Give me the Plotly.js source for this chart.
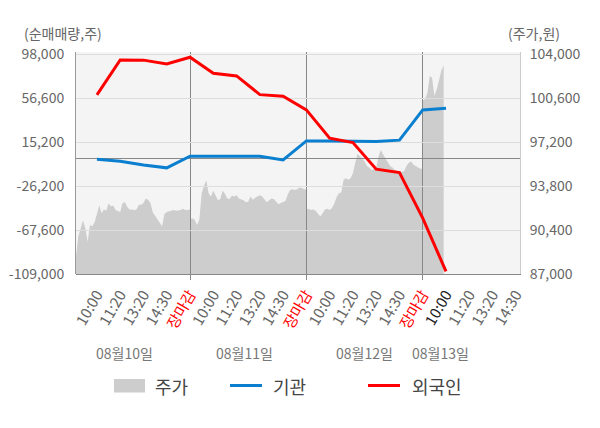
<!DOCTYPE html>
<html>
<head>
<meta charset="utf-8">
<script src="https://cdn.plot.ly/plotly-3.0.1.min.js"></script>
<style>
  html, body { margin: 0; padding: 0; background: #fff; }
  #chart { width: 600px; height: 428px; }
</style>
</head>
<body>
<div id="chart"></div>
<script>
// datos
const days = ['08월10일', '08월11일', '08월12일', '08월13일'];
const slots = ['10:00', '11:20', '13:20', '14:30', '장마감'];

// 순매매량 (주) por corte horario
const gigwan  = [-800, -2700, -6400, -9000, 2000, 2000, 2000, 2000, -1500, 16400, 16400, 16100, 15800, 17100, 45600, 47200];
const oegugin = [59700, 92600, 92500, 88900, 95200, 80100, 77600, 60000, 58500, 45600, 19000, 14800, -10200, -13400, -56300, -106600];

// 주가 (원), una muestra cada 1/10 de corte horario
const priceDay1 = [88300, 88350, 89900, 90450, 91150, 90550, 89500, 90800, 90700, 91000,
  91700, 92300, 91700, 92000, 91900, 92450, 92250, 92300, 91950, 91850,
  91800, 92500, 92550, 92200, 92000, 92000, 91950, 92000, 92350, 92350,
  92500, 92850, 92750, 92500, 91750, 91500, 91250, 91050, 90700, 91650,
  91800, 91850, 91900, 91950, 91900, 91900, 91950, 92050, 91950, 91950, 92000];
const priceDay2 = [91300, 91300, 91200, 90800, 91200, 93250, 93800, 94250, 93250, 93000,
  93450, 93000, 92700, 92800, 93450, 93200, 92850, 92800, 93050, 93000,
  93100, 92850, 92800, 92700, 92550, 92600, 93000, 92750, 92900, 93000,
  93100, 93000, 92800, 92550, 92700, 92850, 92800, 92550, 92400, 92500,
  92600, 92650, 93150, 93500, 93550, 93500, 93550, 93700, 93650, 93600, 93500];
const priceDay3 = [91950, 92050, 91950, 92000, 91900, 91650, 91450, 91700, 92000, 92050,
  91950, 92100, 92450, 92950, 93250, 93300, 94300, 94400, 94300, 94400,
  94800, 95600, 96300, 96100, 95950, 95700, 95350, 95250, 95050, 95100,
  95200, 96100, 96600, 96250, 95900, 95650, 95350, 95250, 95050, 95000,
  94900, 94900, 94950, 95350, 95600, 95700, 95450, 95350, 95250, 95150, 95150];
const priceDay4 = [100450, 100500, 101000, 102300, 102200, 100800, 101250, 102000, 102750, 103150];

const leftTicks  = [-109000, -67600, -26200, 15200, 56600, 98000];
const rightTicks = [87000, 90400, 93800, 97200, 100600, 104000];

const FONT = '"Noto Sans CJK KR", "Noto Sans", sans-serif';
const N_SLOTS = slots.length;
const X_RANGE = [0.1, 19.18];

function fmt(v){ return v.toLocaleString('en-US'); }
// pixel -> papel (área de trazado 76..520 x 52..274)
function px(x){ return (x - 76) / 444; }
function py(y){ return (274 - y) / 222; }

// eje x: posiciones de corte horario
const tickvals = [], ticktext = [];
days.forEach((d, di) => {
  slots.forEach((s, si) => {
    const k = di * N_SLOTS + si + 1;
    if (k > 19) return;
    tickvals.push(k);
    if (s === '장마감') ticktext.push('<span style="color:#ff0000">' + s + '</span>');
    else if (di === days.length - 1 && si === 0) ticktext.push('<span style="color:#222">' + s + '</span>');
    else ticktext.push(s);
  });
});

// serie del precio
const priceX = [], priceY = [];
[priceDay1, priceDay2, priceDay3, priceDay4].forEach((arr, di) => {
  arr.forEach((v, i) => { priceX.push(di * N_SLOTS + i / 10); priceY.push(v); });
});
const slotX = gigwan.map((_, i) => i + 1);

const traces = [
  { x: priceX, y: priceY, xaxis: 'x', yaxis: 'y', type: 'scatter', mode: 'lines',
    line: { width: 0, color: '#cdcdcd' }, fill: 'tozeroy', fillcolor: '#cdcdcd',
    name: '주가', hoverinfo: 'skip' },
  { x: slotX, y: gigwan, xaxis: 'x2', yaxis: 'y2', type: 'scatter', mode: 'lines',
    line: { width: 3, color: '#0a7fcf' }, name: '기관' },
  { x: slotX, y: oegugin, xaxis: 'x2', yaxis: 'y2', type: 'scatter', mode: 'lines',
    line: { width: 3, color: '#ff0000' }, name: '외국인' }
];

// leyenda a mano
const legendItems = [
  { name: '주가', color: '#cdcdcd', kind: 'box', x: 114, tx: 153 },
  { name: '기관', color: '#0a7fcf', kind: 'line', x: 230, tx: 271 },
  { name: '외국인', color: '#ff0000', kind: 'line', x: 368, tx: 410 }
];
const shapes = [
  { type: 'rect', xref: 'paper', yref: 'paper', x0: 0, x1: 1, y0: 0, y1: 1,
    fillcolor: '#f4f4f4', line: { width: 0 }, layer: 'below' }
];
const annotations = [];
legendItems.forEach(it => {
  if (it.kind === 'box') {
    shapes.push({ type: 'rect', xref: 'paper', yref: 'paper', x0: px(it.x), x1: px(it.x + 31),
      y0: py(392.5), y1: py(379), fillcolor: it.color, line: { width: 0 } });
  } else {
    shapes.push({ type: 'line', xref: 'paper', yref: 'paper', x0: px(it.x), x1: px(it.x + 32),
      y0: py(385.5), y1: py(385.5), line: { color: it.color, width: 3 } });
  }
  annotations.push({ text: it.name, xref: 'paper', yref: 'paper', x: px(it.tx), y: py(386),
    xanchor: 'left', yanchor: 'middle', showarrow: false, font: { size: 18, color: '#444' } });
});

const dateX = [2.2, 7.35, 12.5, 15.75];
days.forEach((d, i) => {
  annotations.push({ text: d, xref: 'x', yref: 'paper', x: dateX[i], y: py(353),
    xanchor: 'center', yanchor: 'middle', showarrow: false, font: { size: 14, color: '#777' } });
});
annotations.push({ text: '(순매매량,주)', xref: 'paper', yref: 'paper', x: px(22), y: py(33),
  xanchor: 'left', yanchor: 'middle', showarrow: false, font: { size: 14, color: '#666' } });
annotations.push({ text: '(주가,원)', xref: 'paper', yref: 'paper', x: px(562), y: py(33),
  xanchor: 'right', yanchor: 'middle', showarrow: false, font: { size: 14, color: '#666' } });

const layout = {
  width: 600, height: 428,
  margin: { l: 76, r: 80, t: 52, b: 154 },
  paper_bgcolor: '#ffffff',
  plot_bgcolor: 'rgba(0,0,0,0)',
  font: { family: FONT, size: 14, color: '#666' },
  showlegend: false,
  xaxis: {
    range: X_RANGE, anchor: 'y', tickvals: tickvals, ticktext: ticktext, tickangle: -60,
    ticks: '', ticklabelstandoff: 5, showgrid: false, zeroline: false,
    showline: true, linecolor: '#888', tickfont: { size: 15, color: '#666' }
  },
  yaxis: {
    side: 'right', anchor: 'x', range: [87000, 104178],
    tickvals: rightTicks, ticktext: rightTicks.map(fmt), ticks: '', ticklabelstandoff: 6,
    showgrid: false, zeroline: false, showline: true, linecolor: '#cccccc',
    tickfont: { size: 14, color: '#666' }
  },
  xaxis2: {
    range: X_RANGE, anchor: 'y2', tickvals: [5, 10, 15], showticklabels: false,
    ticks: 'outside', ticklen: 5, tickcolor: '#888', showgrid: true, gridcolor: '#888',
    zeroline: false, showline: false
  },
  yaxis2: {
    side: 'left', anchor: 'x2', range: [-109000, 100160],
    tickvals: leftTicks, ticktext: leftTicks.map(fmt), ticks: '', ticklabelstandoff: 8,
    showgrid: true, gridcolor: '#dddddd', zeroline: true, zerolinecolor: '#888', zerolinewidth: 1,
    showline: true, linecolor: '#999', tickfont: { size: 14, color: '#666' }
  },
  shapes: shapes,
  annotations: annotations
};

Plotly.newPlot('chart', traces, layout, { staticPlot: true, displayModeBar: false });
</script>
</body>
</html>
